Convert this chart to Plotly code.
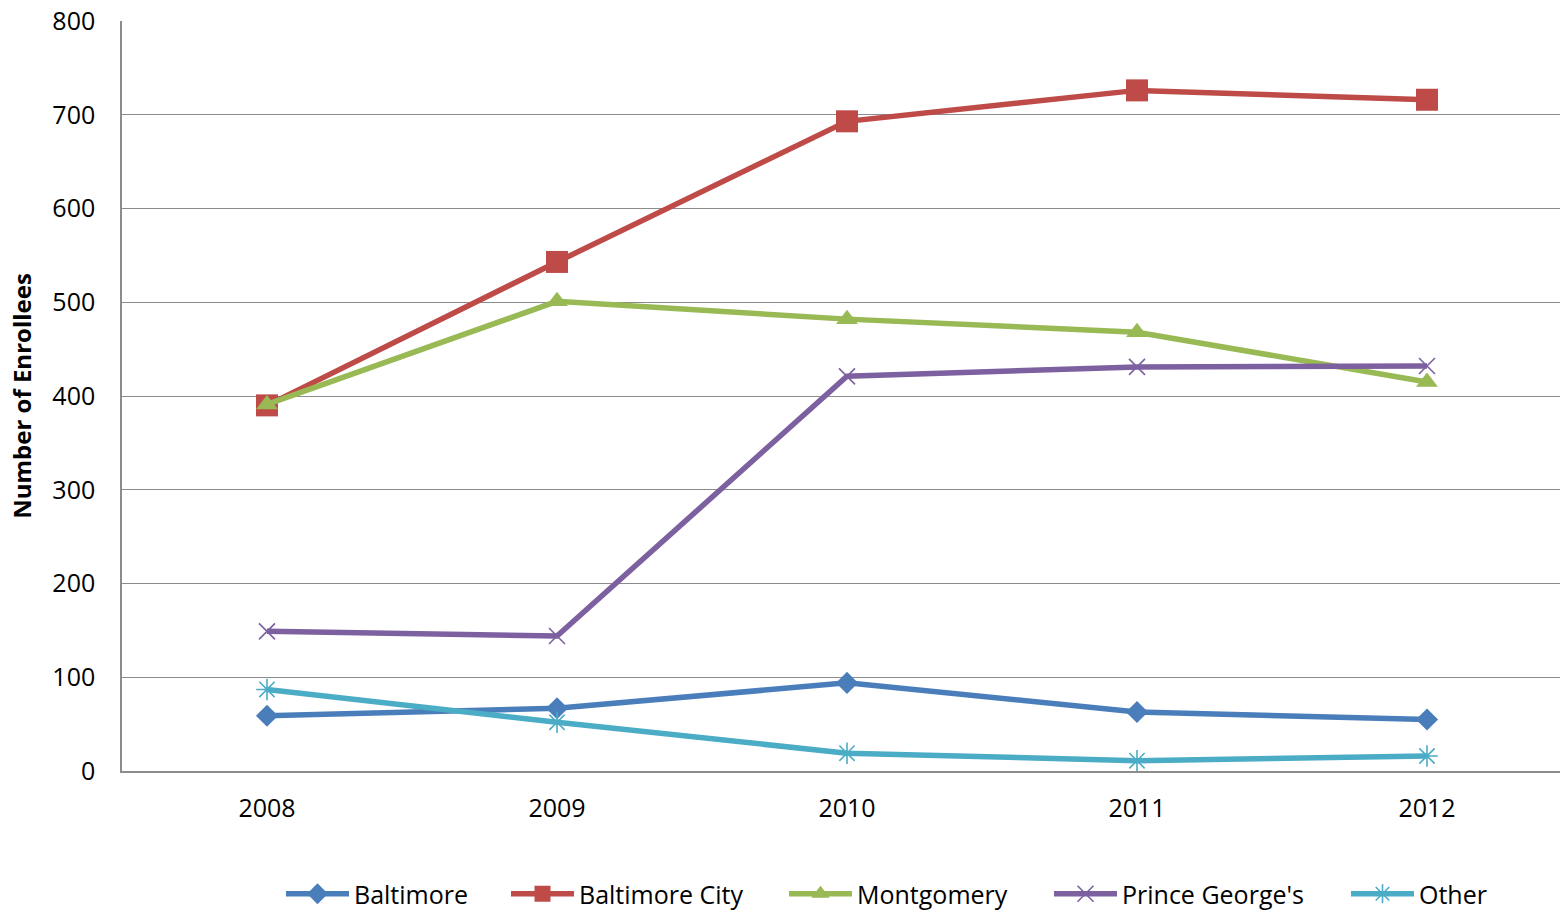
import plotly.graph_objects as go

years = ["2008", "2009", "2010", "2011", "2012"]
baltimore = [59, 67, 94, 63, 55]
baltimore_city = [390, 543, 693, 726, 716]
montgomery = [391, 501, 482, 468, 415]
prince_georges = [149, 144, 421, 431, 432]
other = [87, 52, 19, 11, 16]

series = [
    ("Baltimore", baltimore, "#4A7EBB", "diamond", 17, 0),
    ("Baltimore City", baltimore_city, "#BE4B48", "square", 22, 0),
    ("Montgomery", montgomery, "#98B954", "triangle-up", 19, 0),
    ("Prince George's", prince_georges, "#7D60A0", "x-thin-open", 16, 1.6),
    ("Other", other, "#4BACC6", "asterisk-open", 18, 1.6),
]

# legend symbol start positions (screen px)
legend_px = [289, 514, 792, 1057, 1354]

W, H = 1560, 911
L, R, T, B = 122, 0, 21, 140
PW, PH = W - L - R, H - T - B

font_family = "'Open Sans', sans-serif"

fig = go.Figure()
layout_legends = {}
for i, (name, vals, color, sym, size, lw) in enumerate(series):
    marker = dict(symbol=sym, size=size, color=color)
    if lw:
        marker["line"] = dict(color=color, width=lw)
    key = "legend" if i == 0 else f"legend{i+1}"
    fig.add_trace(go.Scatter(
        x=years, y=vals, name=name, mode="lines+markers",
        line=dict(color=color, width=5.5),
        marker=marker, legend=key,
    ))
    layout_legends[key] = dict(
        orientation="h", x=(legend_px[i] - 8 - L) / PW, xanchor="left",
        y=(H - B - 894) / PH, yanchor="middle",
        font=dict(size=25, family=font_family), itemwidth=63,
        bgcolor="rgba(0,0,0,0)",
    )

fig.update_layout(
    width=W, height=H,
    margin=dict(l=L, r=R, t=T, b=B, autoexpand=False),
    paper_bgcolor="white", plot_bgcolor="white",
    font=dict(family=font_family, size=25, color="black"),
    showlegend=True,
    xaxis=dict(type="category", range=[-0.5, -0.5 + PW / 290], showgrid=False,
               showline=True, linecolor="#8C8C8C", linewidth=1.5,
               ticks="", tickfont=dict(size=25), ticklabelstandoff=14),
    yaxis=dict(range=[0, 800], dtick=100, showgrid=True, gridcolor="#8C8C8C",
               gridwidth=1.2, showline=True, linecolor="#8C8C8C", linewidth=1.5,
               zeroline=False, ticks="", tickfont=dict(size=25),
               ticklabelstandoff=20,
               title=dict(text="<b>Number of Enrollees</b>", font=dict(size=24), standoff=14)),
    **layout_legends,
)

fig.write_html(
    "out.html",
    config={"displayModeBar": False},
    post_script="document.body.style.margin='0';document.body.style.overflow='hidden';",
)
